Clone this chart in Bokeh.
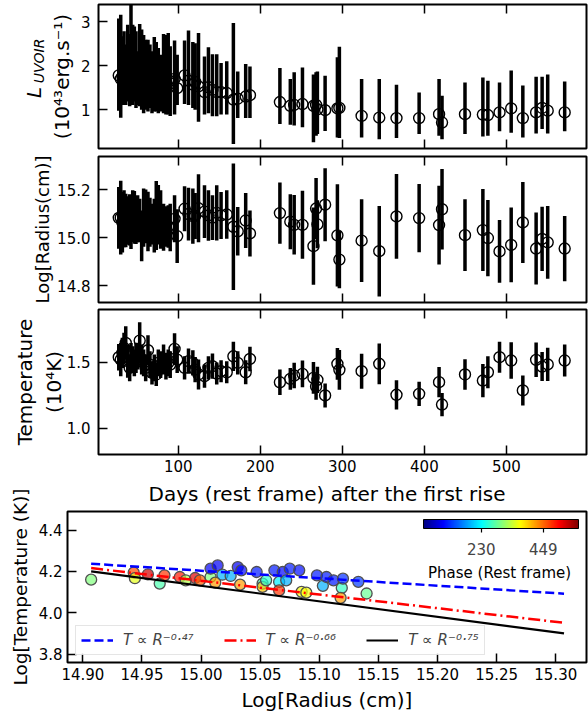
from bokeh.plotting import figure
from bokeh.models import (ColumnDataSource, LinearAxis, FixedTicker, PrintfTickFormatter,
                          Range1d, Label, ColorBar, LinearColorMapper, Legend, LegendItem, Title)
from bokeh.layouts import column
from bokeh.embed import file_html
from bokeh.resources import INLINE

# ---------------- data ----------------
days = [27.5, 29.9, 31.9, 33.9, 36.0, 38.4, 40.8, 42.4, 44.5, 46.5,
        48.5, 50.5, 53.0, 55.4, 57.8, 60.3, 63.1, 65.5, 68.0, 70.8,
        73.2, 75.7, 78.5, 82.1, 85.0, 87.8, 90.2, 95.5, 98.7, 107.7,
        112.5, 117.8, 120.6, 124.7, 132.0, 136.8, 141.7, 146.9, 152.2, 159.1,
        167.2, 172.5, 182.2, 187.4, 223.9, 236.6, 241.3, 251.4, 264.8, 268.0,
        269.6, 279.0, 294.0, 296.4, 323.5, 345.0, 366.0, 393.6, 417.9, 421.5,
        449.5, 471.3, 477.4, 491.6, 505.8, 520.0, 536.2, 543.5, 550.3, 571.0]

lum = [1.78, 1.70, 1.76, 1.83, 1.79, 1.87, 1.76, 1.91, 1.87, 1.76,
       1.76, 1.68, 1.79, 1.72, 1.64, 1.76, 1.68, 1.72, 1.60, 1.68,
       1.73, 1.64, 1.57, 1.76, 1.64, 1.68, 1.60, 1.70, 1.49, 1.78,
       1.66, 1.57, 1.63, 1.53, 1.40, 1.51, 1.45, 1.40, 1.40, 1.38,
       1.23, 1.25, 1.30, 1.33, 1.175, 1.09, 1.11, 1.13, 1.09, 1.11,
       1.01, 0.99, 1.03, 1.04, 0.86, 0.82, 0.81, 0.81, 0.90, 0.71,
       0.90, 0.89, 0.88, 0.94, 1.03, 0.81, 0.94, 1.04, 0.98, 0.94]
lum_upper = [3.07, 3.16, 2.67, 2.78, 2.48, 2.93, 2.72, 3.55, 2.93, 2.89,
             2.78, 2.33, 2.95, 2.82, 2.70, 2.59, 2.59, 2.48, 2.33, 2.65,
             2.54, 2.40, 2.25, 2.72, 2.70, 2.74, 2.44, 2.57, 2.25, 2.57,
             2.80, 2.54, 2.51, 2.74, 2.21, 2.42, 2.26, 2.26, 2.06, 2.10,
             2.97, 1.87, 2.04, 1.98, 1.95, 1.70, 1.85, 1.96, 1.80, 1.85,
             1.87, 1.77, 2.19, 2.43, 1.70, 1.70, 1.57, 1.39, 1.70, 1.32,
             1.62, 1.73, 1.66, 1.62, 1.89, 1.55, 1.75, 1.75, 1.80, 1.64]
lum_lower = [0.98, 0.82, 1.11, 1.15, 1.11, 1.19, 1.08, 1.19, 1.11, 1.19,
             1.04, 1.11, 1.08, 1.00, 0.92, 1.00, 0.96, 1.04, 0.92, 0.96,
             0.96, 0.92, 0.96, 0.92, 0.89, 0.89, 0.86, 0.89, 1.11, 1.13,
             1.11, 1.04, 1.00, 0.73, 0.89, 0.92, 0.85, 0.85, 0.89, 0.89,
             0.22, 0.81, 0.81, 0.81, 0.675, 0.66, 0.64, 0.60, 0.26, 0.41,
             0.45, 0.52, 0.37, 0.36, 0.37, 0.33, 0.36, 0.45, 0.41, 0.33,
             0.45, 0.39, 0.41, 0.51, 0.48, 0.37, 0.46, 0.56, 0.46, 0.51]

log_radius = [15.083, 15.084, 15.065, 15.079, 15.072, 15.072, 15.075, 15.058, 15.090, 15.085,
              15.065, 15.079, 15.072, 15.008, 15.084, 15.089, 15.068, 15.065, 15.057, 15.051,
              15.093, 15.096, 15.076, 15.044, 15.047, 15.047, 15.043, 15.079, 15.007, 15.121,
              15.099, 15.090, 15.091, 15.123, 15.109, 15.093, 15.084, 15.104, 15.093, 15.097,
              15.046, 15.027, 15.072, 15.018, 15.103, 15.067, 15.054, 15.054, 14.965, 15.122,
              15.056, 15.138, 15.010, 14.909, 14.988, 14.944, 15.089, 15.082, 15.053, 15.119,
              15.011, 15.032, 14.999, 14.943, 14.970, 15.064, 14.955, 14.995, 14.981, 14.955]
log_radius_err = [0.129, 0.154, 0.126, 0.119, 0.112, 0.101, 0.107, 0.105, 0.108, 0.110,
                  0.091, 0.098, 0.091, 0.106, 0.121, 0.112, 0.124, 0.102, 0.085, 0.112,
                  0.144, 0.124, 0.122, 0.098, 0.084, 0.089, 0.099, 0.098, 0.112, 0.094,
                  0.110, 0.115, 0.096, 0.142, 0.110, 0.105, 0.093, 0.115, 0.098, 0.101,
                  0.264, 0.101, 0.115, 0.096, 0.128, 0.115, 0.124, 0.142, 0.161, 0.127,
                  0.100, 0.152, 0.213, 0.120, 0.173, 0.189, 0.177, 0.142, 0.164, 0.168,
                  0.150, 0.171, 0.159, 0.131, 0.156, 0.169, 0.150, 0.134, 0.152, 0.136]

temperature = [1.538, 1.520, 1.571, 1.609, 1.646, 1.508, 1.457, 1.545, 1.520, 1.495,
               1.533, 1.545, 1.664, 1.520, 1.495, 1.457, 1.591, 1.482, 1.419, 1.457,
               1.407, 1.495, 1.482, 1.520, 1.470, 1.495, 1.482, 1.601, 1.520, 1.457,
               1.508, 1.495, 1.444, 1.407, 1.394, 1.457, 1.470, 1.414, 1.432, 1.424,
               1.545, 1.495, 1.424, 1.525, 1.348, 1.374, 1.399, 1.412, 1.381, 1.316,
               1.366, 1.248, 1.488, 1.442, 1.432, 1.488, 1.253, 1.260, 1.349, 1.179,
               1.407, 1.361, 1.424, 1.538, 1.513, 1.286, 1.518, 1.467, 1.483, 1.513]
temperature_err = [0.101, 0.126, 0.114, 0.114, 0.126, 0.126, 0.101, 0.101, 0.101, 0.101,
                   0.114, 0.101, 0.139, 0.114, 0.101, 0.101, 0.114, 0.101, 0.088, 0.101,
                   0.088, 0.101, 0.101, 0.114, 0.101, 0.101, 0.101, 0.119, 0.101, 0.088,
                   0.096, 0.096, 0.096, 0.114, 0.088, 0.088, 0.096, 0.083, 0.083, 0.083,
                   0.111, 0.088, 0.091, 0.093, 0.096, 0.082, 0.097, 0.101, 0.120, 0.100,
                   0.100, 0.091, 0.120, 0.150, 0.133, 0.155, 0.111, 0.092, 0.114, 0.088,
                   0.116, 0.126, 0.122, 0.117, 0.139, 0.114, 0.131, 0.110, 0.126, 0.121]

day_ticks = [100, 200, 300, 400, 500]

# bottom panel: log T vs log R coloured by phase
sc_log_r = [14.907, 14.943, 14.944, 14.955, 14.965, 14.969, 14.982, 14.987, 14.995, 14.999,
            15.008, 15.008, 15.014, 15.012, 15.018, 15.025, 15.031, 15.034, 15.033, 15.047,
            15.052, 15.052, 15.055, 15.062, 15.066, 15.066, 15.069, 15.072, 15.075, 15.083,
            15.085, 15.089, 15.098, 15.103, 15.106, 15.112, 15.119, 15.118, 15.120, 15.133,
            15.140]
sc_log_t = [4.160, 4.194, 4.167, 4.186, 4.141, 4.181, 4.173, 4.157, 4.168, 4.157,
            4.173, 4.213, 4.229, 4.146, 4.184, 4.178, 4.221, 4.205, 4.136, 4.197,
            4.141, 4.125, 4.157, 4.205, 4.149, 4.108, 4.197, 4.157, 4.213, 4.205,
            4.101, 4.097, 4.181, 4.130, 4.173, 4.157, 4.120, 4.072, 4.165, 4.149,
            4.093]
sc_phase = [300, 464, 354, 529, 272, 475, 491, 327, 518, 453,
            300, 92, 92, 420, 190, 190, 92, 98, 420, 108,
            272, 398, 256, 108, 223, 475, 98, 190, 108, 103,
            365, 365, 108, 190, 108, 108, 262, 420, 119, 125,
            289]
phase_low, phase_high = 26.5, 573.0
cbar_ticks = [230, 449]

fit_log_r = [14.907, 15.307]
fit_t_047 = [4.237, 4.092]
fit_t_066 = [4.216, 3.951]
fit_t_075 = [4.200, 3.900]
fit_labels = ["T ∝ R⁻⁰·⁴⁷", "T ∝ R⁻⁰·⁶⁶", "T ∝ R⁻⁰·⁷⁵"]

FONT = "DejaVu Sans"
NB = "\u00a0"


def jet(n=256):
    out = []
    for i in range(n):
        t = i / (n - 1)
        r = min(max(1.5 - abs(4 * t - 3), 0), 1)
        g = min(max(1.5 - abs(4 * t - 2), 0), 1)
        b = min(max(1.5 - abs(4 * t - 1), 0), 1)
        out.append("#%02x%02x%02x" % (int(r * 255), int(g * 255), int(b * 255)))
    return out


def style(p):
    p.outline_line_color = "black"
    p.outline_line_width = 2
    p.grid.visible = False
    for ax in p.axis:
        if "plain" in ax.tags:
            continue
        ax.axis_line_color = None
        ax.major_tick_in = 9
        ax.major_tick_out = 0
        ax.major_tick_line_width = 1.5
        ax.major_tick_line_color = "black"
        ax.minor_tick_line_color = None
        if "hidden" not in ax.tags:
            ax.major_label_text_font = FONT
            ax.major_label_text_font_size = "15px"
            ax.major_label_text_color = "black"
        ax.axis_label_text_font = FONT
        if "small" not in ax.tags:
            ax.axis_label_text_font_size = "20px"
        ax.axis_label_text_font_style = "normal"
        ax.axis_label_text_color = "black"


def hidden_axis():
    return LinearAxis(ticker=FixedTicker(ticks=day_ticks), major_label_text_font_size="0px",
                      major_label_text_alpha=0, major_label_standoff=0, axis_label=None,
                      tags=["hidden"])


def label_axis(text, size, style_, standoff):
    # an axis that carries only a title (no ticks, no tick labels)
    return LinearAxis(ticker=FixedTicker(ticks=[]), axis_line_color=None,
                      major_tick_in=0, major_tick_out=0, minor_tick_line_color=None,
                      major_label_standoff=0, axis_label=text,
                      axis_label_text_font=FONT, axis_label_text_font_size=size,
                      axis_label_text_font_style=style_, axis_label_text_color="black",
                      axis_label_standoff=standoff, tags=["plain"])


xr = Range1d(2.8, 597.6)
src = ColumnDataSource(dict(
    d=days, L=lum, Lu=lum_upper, Ll=lum_lower,
    R=log_radius, Ru=[r + e for r, e in zip(log_radius, log_radius_err)],
    Rl=[r - e for r, e in zip(log_radius, log_radius_err)],
    T=temperature, Tu=[t + e for t, e in zip(temperature, temperature_err)],
    Tl=[t - e for t, e in zip(temperature, temperature_err)]))


def ts_fig(fh, yr, ymid, ylo, yhi, ticks, fmt, bottom_labels, mb_top, mb_bottom):
    p = figure(frame_width=488, frame_height=fh, x_range=xr, y_range=Range1d(*yr),
               output_backend="svg", toolbar_location=None, title=None,
               min_border_left=98, min_border_right=2, min_border_top=mb_top,
               min_border_bottom=mb_bottom, x_axis_location=None, y_axis_location=None,
               frame_align=False)
    p.segment(x0="d", y0=ylo, x1="d", y1=yhi, source=src, line_color="black", line_width=3.5)
    p.scatter("d", ymid, source=src, size=11, fill_color=None, line_color="black",
              line_width=1.4)
    yax = LinearAxis(ticker=FixedTicker(ticks=ticks), formatter=PrintfTickFormatter(format=fmt),
                     major_label_standoff=8)
    p.add_layout(yax, "left")
    if bottom_labels:
        xax = LinearAxis(ticker=FixedTicker(ticks=day_ticks), major_label_standoff=5)
    else:
        xax = hidden_axis()
    p.add_layout(xax, "below")
    p.add_layout(hidden_axis(), "above")
    style(p)
    return p


p1 = ts_fig(144, (0.12, 3.39), "L", "Ll", "Lu", [1, 2, 3], "%d", False, 4, 4)
p2 = ts_fig(146, (14.73, 15.339), "R", "Rl", "Ru", [14.8, 15.0, 15.2], "%.1f", False, 4, 3)
p3 = ts_fig(145, (0.80, 1.90), "T", "Tl", "Tu", [1.0, 1.5], "%.1f", True, 4, 0)

# y titles
p1.yaxis[0].axis_label = "(10⁴³erg.s⁻¹)"
p1.yaxis[0].axis_label_standoff = 4
p1.add_layout(label_axis(NB * 7 + "UVOIR", "14px", "italic", 0), "left")
p1.add_layout(label_axis("L" + NB * 5, "20px", "italic", -18), "left")

p2.yaxis[0].axis_label = "Log[Radius(cm)]"
p2.yaxis[0].axis_label_standoff = 1
p2.yaxis[0].tags = ["small"]
p2.yaxis[0].axis_label_text_font_size = "18px"

p3.yaxis[0].axis_label = "(10⁴K)"
p3.yaxis[0].axis_label_standoff = -2
p3.add_layout(label_axis("Temperature", "20px", "normal", 2), "left")

# ---------------- bottom panel ----------------
p4 = figure(frame_width=519, frame_height=151, x_range=Range1d(14.887, 15.326),
            y_range=Range1d(3.759, 4.49), output_backend="svg", toolbar_location=None,
            title=None, min_border_left=67, min_border_right=2, min_border_top=33,
            min_border_bottom=0, x_axis_location=None, y_axis_location=None,
            frame_align=False)
# x-axis title of the time-series panels, drawn in the space above this panel
p4.add_layout(Title(text="Days (rest frame) after the first rise", align="center",
                    offset=15, standoff=11, text_font=FONT, text_font_size="20px",
                    text_font_style="normal", text_color="black"), "above")

mapper = LinearColorMapper(palette=jet(), low=phase_low, high=phase_high)
ssrc = ColumnDataSource(dict(r=sc_log_r, t=sc_log_t, ph=sc_phase))
p4.scatter("r", "t", source=ssrc, size=11, fill_color={"field": "ph", "transform": mapper},
           fill_alpha=0.7, line_color="#505050", line_width=1.3)
l1 = p4.line(fit_log_r, fit_t_047, line_color="blue", line_width=2.5, line_dash="9 4")
l2 = p4.line(fit_log_r, fit_t_066, line_color="red", line_width=2.5, line_dash="12 4 2 4")
l3 = p4.line(fit_log_r, fit_t_075, line_color="black", line_width=2.2)

p4.add_layout(LinearAxis(ticker=FixedTicker(ticks=[3.8, 4.0, 4.2, 4.4]),
                         formatter=PrintfTickFormatter(format="%.1f"),
                         major_label_standoff=5, axis_label="Log[Temperature (K)]",
                         axis_label_standoff=5, tags=["small"],
                         axis_label_text_font_size="18.5px"), "left")
p4.add_layout(LinearAxis(ticker=FixedTicker(ticks=[14.90, 14.95, 15.00, 15.05, 15.10, 15.15,
                                                   15.20, 15.25, 15.30]),
                         formatter=PrintfTickFormatter(format="%.2f"),
                         major_label_standoff=5, axis_label="Log[Radius (cm)]",
                         axis_label_standoff=5), "below")
style(p4)

legend = Legend(items=[LegendItem(label=fit_labels[0], renderers=[l1]),
                       LegendItem(label=fit_labels[1], renderers=[l2]),
                       LegendItem(label=fit_labels[2], renderers=[l3])],
                orientation="horizontal", location=(8, 7), glyph_width=32, glyph_height=14,
                label_standoff=10, spacing=30, padding=5, margin=0,
                label_text_font=FONT, label_text_font_size="15px",
                label_text_font_style="italic", label_height=16,
                border_line_color="#cccccc", border_line_width=1,
                background_fill_alpha=0.8)
p4.add_layout(legend, "center")

cbar = ColorBar(color_mapper=mapper, orientation="horizontal", width=155, height=9,
                ticker=FixedTicker(ticks=cbar_ticks), major_label_text_font=FONT,
                major_label_text_font_size="15px", major_tick_in=0, major_tick_out=4,
                major_tick_line_color="black", major_tick_line_width=1.2,
                bar_line_color="black", bar_line_width=1, label_standoff=10,
                background_fill_alpha=0, border_line_color=None, padding=0,
                location=(356, 105))
p4.add_layout(cbar, "center")
p4.add_layout(Label(x=15.2525, y=4.19, text="Phase (Rest frame)", text_font=FONT,
                    text_font_size="15px", text_align="center", text_baseline="middle",
                    text_color="black"))

layout = column(p1, p2, p3, p4, spacing=0)
open("out.html", "w").write(file_html(layout, INLINE, title="chart"))
